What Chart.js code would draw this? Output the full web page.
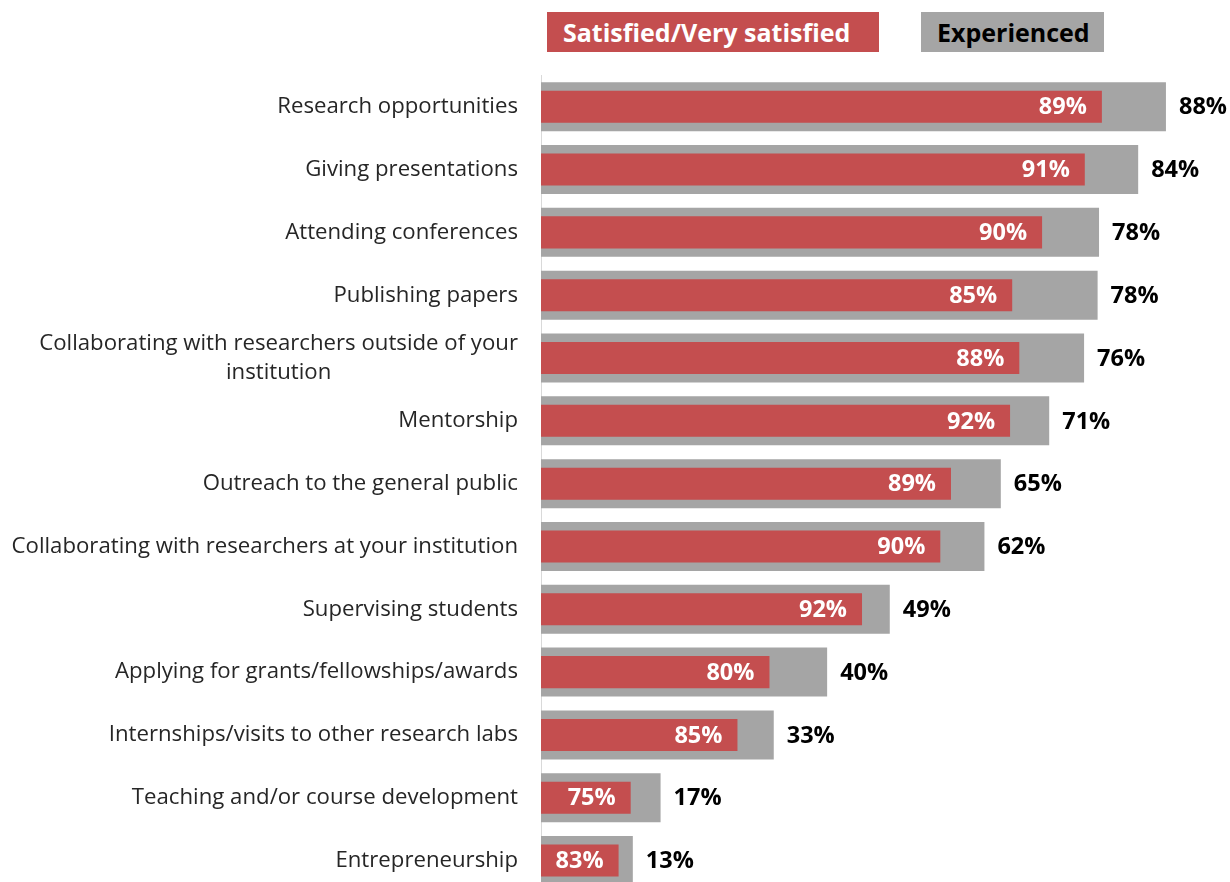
<!DOCTYPE html>
<html>
<head>
<meta charset="utf-8">
<script src="https://cdn.jsdelivr.net/npm/chart.js@4"></script>
<style>
    html, body { margin: 0; padding: 0; background: #fff; overflow: hidden; }
    #wrap { position: relative; width: 1230px; height: 892px; }
    .key {
        position: absolute; top: 12px; height: 40px; line-height: 40px;
        font-family: "Open Sans", sans-serif; font-weight: 700; font-size: 25px;
        box-sizing: border-box; white-space: nowrap;
    }
    #keySat { left: 547px; width: 332px; background: #C44E4F; color: #fff; padding-left: 16px; }
    #keyExp { left: 921px; width: 183px; background: #A5A5A5; color: #000; padding-left: 16px; }
</style>
</head>
<body>
<div id="wrap">
    <canvas id="chart" width="1230" height="892"></canvas>
    <div class="key" id="keySat">Satisfied/Very satisfied</div>
    <div class="key" id="keyExp">Experienced</div>
</div>
<script>
// Categories, top to bottom
const categories = [
    'Research opportunities',
    'Giving presentations',
    'Attending conferences',
    'Publishing papers',
    ['Collaborating with researchers outside of your', 'institution'],
    'Mentorship',
    'Outreach to the general public',
    'Collaborating with researchers at your institution',
    'Supervising students',
    'Applying for grants/fellowships/awards',
    'Internships/visits to other research labs',
    'Teaching and/or course development',
    'Entrepreneurship'
];

// Share who experienced it (grey bar)
const experienced = [87.8, 83.9, 78.4, 78.2, 76.3, 71.4, 64.6, 62.3, 49.0, 40.2, 32.7, 16.8, 12.9];

// Share satisfied among those who experienced it (label inside red bar)
const satisfied = [89, 91, 90, 85, 88, 92, 89, 90, 92, 80, 85, 75, 83];

// Length of the red bar
const satisfiedBar = [78.8, 76.4, 70.4, 66.2, 67.2, 65.9, 57.6, 56.1, 45.1, 32.1, 27.6, 12.6, 10.9];

const RED = '#C44E4F';
const GREY = '#A5A5A5';

// Draws category names and the two sets of value labels
const labelPlugin = {
    id: 'barLabels',
    afterDatasetsDraw(chart) {
        const ctx = chart.ctx;
        const yScale = chart.scales.y;
        const redBars = chart.getDatasetMeta(0).data;
        const greyBars = chart.getDatasetMeta(1).data;
        const right = chart.chartArea.left - 23;

        ctx.save();
        ctx.textBaseline = 'middle';
        categories.forEach((cat, i) => {
            const cy = yScale.getPixelForValue(i);
            const lines = Array.isArray(cat) ? cat : [cat];

            ctx.font = '22.2px "Open Sans"';
            ctx.fillStyle = '#262626';
            ctx.textAlign = 'center';
            const widest = Math.max(...lines.map(l => ctx.measureText(l).width));
            lines.forEach((line, k) => {
                ctx.fillText(line, right - widest / 2, cy + (k - (lines.length - 1) / 2) * 29);
            });

            ctx.font = 'bold 23.5px "Open Sans"';
            ctx.textAlign = 'right';
            ctx.fillStyle = '#fff';
            ctx.fillText(satisfied[i] + '%', redBars[i].x - 15, cy + 1);

            ctx.textAlign = 'left';
            ctx.fillStyle = '#000';
            ctx.fillText(Math.round(experienced[i]) + '%', greyBars[i].x + 13, cy + 1);
        });
        ctx.restore();
    }
};

const ctx = document.getElementById('chart').getContext('2d');
const chart = new Chart(ctx, {
    type: 'bar',
    data: {
        labels: categories,
        // red first so it is painted on top of the grey bar
        datasets: [{
            label: 'Satisfied/Very satisfied',
            data: satisfiedBar,
            backgroundColor: RED,
            barPercentage: 0.51,
            categoryPercentage: 1,
            grouped: false
        }, {
            label: 'Experienced',
            data: experienced,
            backgroundColor: GREY,
            barPercentage: 0.78,
            categoryPercentage: 1,
            grouped: false
        }]
    },
    options: {
        indexAxis: 'y',
        responsive: false,
        animation: false,
        layout: { padding: { top: 75.3, right: 0, bottom: 0, left: 0 } },
        plugins: {
            legend: { display: false },
            tooltip: { enabled: false }
        },
        scales: {
            x: { display: false, min: 0, max: 96.8 },
            y: {
                grid: { display: false, drawTicks: false },
                border: { display: true, color: '#D9D9D9', width: 1 },
                ticks: { display: false },
                afterFit(scale) { scale.width = 541; }
            }
        }
    },
    plugins: [labelPlugin]
});
</script>
</body>
</html>
